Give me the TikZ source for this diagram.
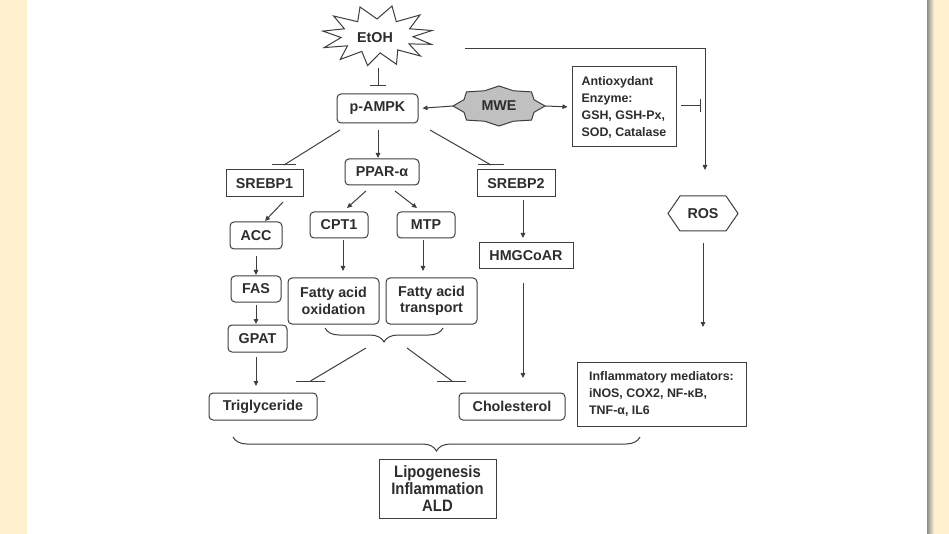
\documentclass[tikz,border=0pt]{standalone}
\usepackage{fontspec}
\setmainfont{Liberation Sans}
\newfontfamily\narrowfont[FakeStretch=0.9]{Liberation Sans}
\usetikzlibrary{arrows.meta,decorations.pathreplacing,calc}
\definecolor{cream}{RGB}{255,241,206}
\definecolor{ink}{RGB}{62,62,62}
\definecolor{txt}{RGB}{45,45,45}
\definecolor{mwegray}{RGB}{192,192,192}
\begin{document}
\begin{tikzpicture}[x=1pt,y=-1pt,
  box/.style={draw=ink, line width=1pt, text=txt, inner sep=0pt, align=center,
    font=\bfseries\fontsize{14.3}{16.5}\selectfont},
  rbox/.style={box, rounded corners=4pt},
  txtbox/.style={draw=ink, line width=1pt, text=txt, inner sep=0pt, align=left,
    font=\bfseries\fontsize{12.4}{17}\selectfont},
  arr/.style={-{Triangle[length=5pt,width=4.5pt]}, line width=1pt, draw=ink},
  ln/.style={line width=1pt, draw=ink},
  brc/.style={line width=1pt, draw=ink, decorate, decoration={brace, mirror, amplitude=14pt}}
]
\useasboundingbox (0,0) rectangle (949,534);
% background
\fill[cream] (0,0) rectangle (949,534);
\fill[white] (27,0) rectangle (927,534);
\shade[left color=black!45, right color=cream] (927,0) rectangle (934,534);

% EtOH starburst
\draw[ln, fill=white] (432,30.5) -- (409.6,28.8) -- (420,15.0) -- (396.3,21.7) -- (392.0,6.0)
  -- (377,19) -- (360.0,7.0) -- (357.7,21.7) -- (333.6,16.0) -- (344.4,28.8) -- (322.8,31.1)
  -- (341.1,37.5) -- (324.2,47.6) -- (347.5,45.8) -- (340.3,59.4) -- (361.8,51.4) -- (367.6,65.6)
  -- (380.1,52.9) -- (396.5,64.3) -- (397.7,49.9) -- (420.4,56.0) -- (408.9,43.9) -- (431.2,44.3)
  -- (413,36.7) -- cycle;
\node[font=\bfseries\fontsize{14.3}{16}\selectfont, text=txt] (etoh) at (375,38) {EtOH};

% MWE star
\draw[ln, fill=mwegray] (545,106) -- (534,99.7) -- (531.5,91.9) -- (513.5,90.8) -- (499,86)
  -- (484.5,90.8) -- (466.5,91.9) -- (464,99.7) -- (453,106) -- (464,112.3) -- (466.5,120.1)
  -- (484.5,121.2) -- (499,126) -- (513.5,121.2) -- (531.5,120.1) -- (534,112.3) -- cycle;
\node[font=\bfseries\fontsize{14.3}{16}\selectfont, text=txt, minimum width=92pt] (mwe) at (499,106) {MWE};

% ROS hexagon
\draw[ln] (668,213.5) -- (680,196) -- (726,196) -- (738,213.5) -- (726,231) -- (680,231) -- cycle;
\node[font=\bfseries\fontsize{14.3}{16}\selectfont, text=txt] (ros) at (703,214) {ROS};

% boxes
\node[rbox, minimum width=81pt, minimum height=29pt] (pampk) at (377.5,108.5) {p-AMPK};
\node[box, minimum width=77pt, minimum height=27pt] (srebp1) at (264.5,183.5) {SREBP1};
\node[rbox, minimum width=74pt, minimum height=26pt] (ppar) at (382,172) {PPAR-α};
\node[box, minimum width=78pt, minimum height=27pt] (srebp2) at (516,183.5) {SREBP2};
\node[rbox, minimum width=52pt, minimum height=27pt] (acc) at (256,235.5) {ACC};
\node[rbox, minimum width=50pt, minimum height=26pt] (fas) at (256,289) {FAS};
\node[rbox, minimum width=59pt, minimum height=27pt] (gpat) at (257.5,338.5) {GPAT};
\node[rbox, minimum width=108pt, minimum height=27pt] (tg) at (263,406.5) {Triglyceride};
\node[rbox, minimum width=58pt, minimum height=26pt] (cpt1) at (339,225) {CPT1};
\node[rbox, minimum width=58pt, minimum height=26pt] (mtp) at (426,225) {MTP};
\node[rbox, minimum width=91pt, minimum height=46pt] (fao) at (333.5,301) {Fatty acid\\oxidation};
\node[rbox, minimum width=91pt, minimum height=46pt] (fat) at (431.5,301) {Fatty acid\\transport};
\node[box, minimum width=94pt, minimum height=26pt] (hmg) at (526,256) {HMGCoAR};
\node[rbox, minimum width=106pt, minimum height=27pt] (chol) at (512,406.5) {Cholesterol};
\node[txtbox, minimum width=104pt, minimum height=80pt] (antiox) at (624,107)
  {Antioxydant\\Enzyme:\\GSH, GSH-Px,\\SOD, Catalase};
\node[txtbox, minimum width=169pt, minimum height=64pt] (inflam) at (661.5,394)
  {Inflammatory mediators:\\iNOS, COX2, NF-κB,\\TNF-α, IL6};
\node[draw=ink, line width=1pt, text=txt, align=center, inner sep=0pt,
  minimum width=117pt, minimum height=59pt, font=\narrowfont\bfseries\fontsize{16.5}{17}\selectfont]
  (lipo) at (437.5,488.5) {Lipogenesis\\Inflammation\\ALD};

% free-end coordinates
\coordinate (etohbar) at (378,86);
\coordinate (etohR) at (465,49);
\coordinate (corner) at (705,49);
\coordinate (rosin) at (705,170);
\coordinate (rosout) at (703,243);
\coordinate (rosend) at (703,327);
\coordinate (b1) at (284,165);
\coordinate (b2) at (491,165);
\coordinate (btg) at (310.5,381);
\coordinate (bch) at (452,381);

% EtOH -| p-AMPK
\draw[ln] (378,68) -- (etohbar);
\draw[ln] ($(etohbar)+(-8,0)$) -- ($(etohbar)+(8,0)$);
% EtOH to ROS
\draw[arr] (etohR) -- (corner) -- (rosin);
% Antioxidant -| ROS path
\draw[ln] (681,105.5) -- (700,105.5);
\draw[ln] (700,99) -- (700,112);
% ROS arrow
\draw[arr] (rosout) -- (rosend);
% MWE arrows
\draw[arr, shorten >=4pt] (mwe.west) -- (pampk.east);
\draw[arr, shorten >=4pt] (mwe.east) -- (antiox.west);
% p-AMPK outputs
\draw[ln] (340,130) -- (b1);
\draw[ln] ($(b1)+(-12,0)$) -- ($(b1)+(12,0)$);
\draw[arr] (378,130) -- (378,158);
\draw[ln] (430,130) -- (b2);
\draw[ln] ($(b2)+(-13,0)$) -- ($(b2)+(13,0)$);
% SREBP1 branch
\draw[arr] (283,202) -- (265,221);
\draw[arr] (256,256) -- (256,275);
\draw[arr] (256,305) -- (256,324);
\draw[arr] (256,357) -- (256,386);
% PPAR branch
\draw[arr] (366,191) -- (347,208);
\draw[arr] (395,191) -- (417,208);
\draw[arr] (343,240) -- (343,271);
\draw[arr] (423,240) -- (423,271);
\draw[brc] (325,328) -- (443,328);
\draw[ln] (366,348) -- (btg);
\draw[ln] ($(btg)+(-14.5,0)$) -- ($(btg)+(14.5,0)$);
\draw[ln] (407,348) -- (bch);
\draw[ln] ($(bch)+(-15,0)$) -- ($(bch)+(14,0)$);
% SREBP2 branch
\draw[arr] (523,200) -- (523,238);
\draw[arr] (523,283) -- (523,378);
% big brace
\draw[brc] (233,437) -- (640,437);
\end{tikzpicture}
\end{document}
